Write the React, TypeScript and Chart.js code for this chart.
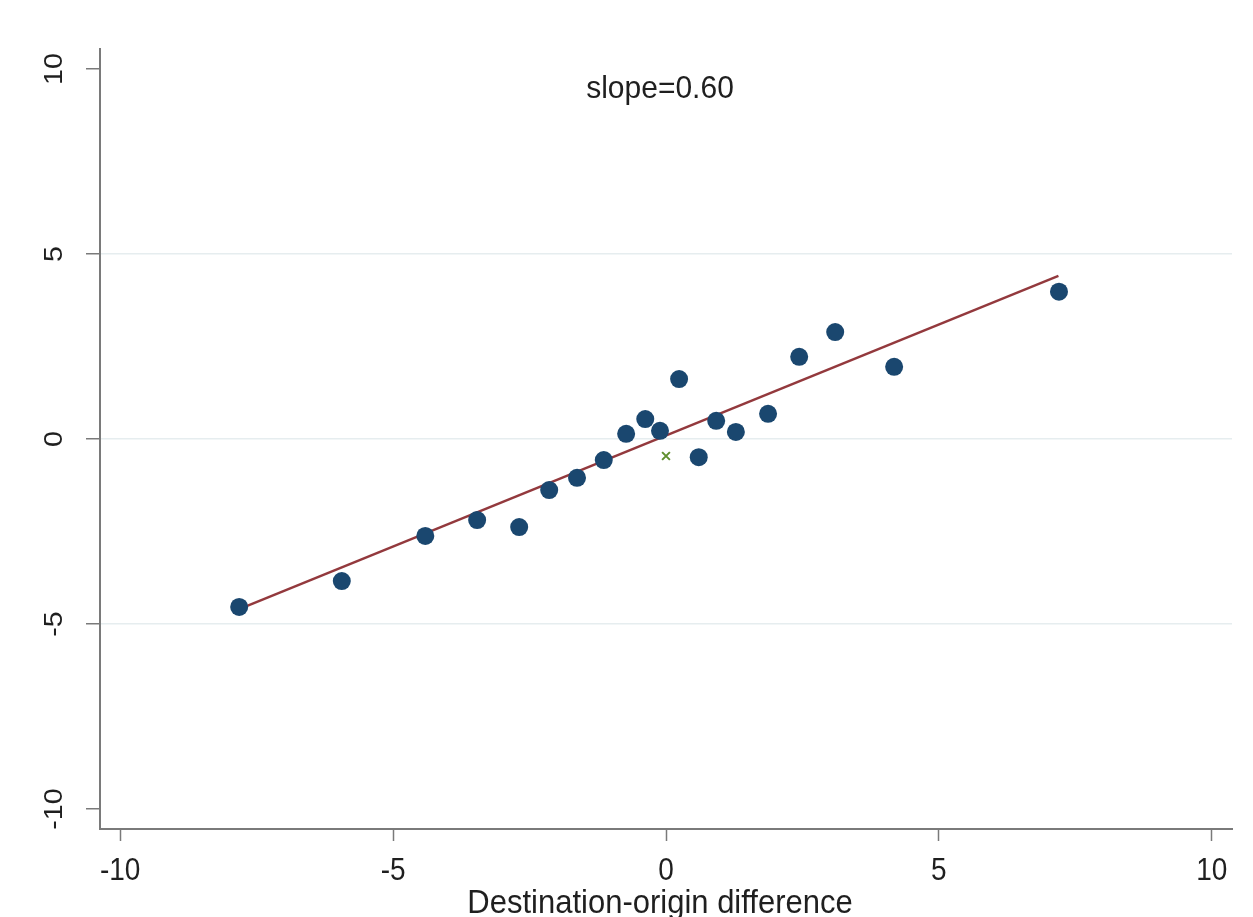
import { useEffect, useRef } from "react";
import { Chart, registerables } from "chart.js";

Chart.register(...registerables);

// Binned scatter points
const dotX = [-7.82, -5.94, -4.41, -3.46, -2.69, -2.14, -1.63, -1.14, -0.73, -0.38, -0.11, 0.24, 0.6, 0.92, 1.28, 1.87, 2.44, 3.1, 4.18, 7.2];
const dotY = [-4.54, -3.84, -2.62, -2.19, -2.38, -1.38, -1.05, -0.57, 0.14, 0.54, 0.22, 1.62, -0.49, 0.49, 0.19, 0.68, 2.22, 2.89, 1.95, 3.98];

// Fitted line endpoints
const fitX = [-7.82, 7.19];
const fitY = [-4.6, 4.41];

// Mean marker
const meanX = [0];
const meanY = [-0.46];

const xTicks = [-10, -5, 0, 5, 10];
const yTicks = [-10, -5, 0, 5, 10];
const yGridValues = [-5, 0, 5];
const xRange = [-10.37, 10.37];
const yRange = [-10.54, 10.54];

const slopeLabel = "slope=0.60";
const xTitle = "Destination-origin difference";

const FONT = "'Liberation Sans', Arial, Helvetica, sans-serif";
const TEXT = "#1f1f1f";
const AXIS = "#7a7a7a";

function stretchedText(ctx: CanvasRenderingContext2D, text: string, x: number, y: number, sy: number) {
  ctx.save();
  ctx.translate(x, y);
  ctx.scale(1, sy);
  ctx.fillText(text, 0, 0);
  ctx.restore();
}

const textPlugin = {
  id: "stataText",
  afterDraw(chart: any) {
    const { ctx, chartArea, scales } = chart;
    const xs = scales.x;
    const ys = scales.y;
    ctx.save();
    ctx.fillStyle = TEXT;

    // y tick labels (rotated)
    ctx.font = `26px ${FONT}`;
    ctx.textAlign = "center";
    ctx.textBaseline = "alphabetic";
    yTicks.forEach((v) => {
      const py = ys.getPixelForValue(v);
      ctx.save();
      ctx.translate(chartArea.left - 38, py);
      ctx.scale(1, 1.1);
      ctx.rotate(-Math.PI / 2);
      ctx.fillText(String(v), 0, 0);
      ctx.restore();
    });

    // x tick labels
    ctx.font = `28px ${FONT}`;
    xTicks.forEach((v) => {
      const px = xs.getPixelForValue(v);
      stretchedText(ctx, String(v), px, chartArea.bottom + 51, 1.15);
    });

    // x title
    ctx.font = `31px ${FONT}`;
    stretchedText(ctx, xTitle, (chartArea.left + chartArea.right) / 2 - 6, chartArea.bottom + 84, 1.05);

    // slope annotation
    ctx.font = `30px ${FONT}`;
    stretchedText(ctx, slopeLabel, (chartArea.left + chartArea.right) / 2 - 6, chartArea.top + 49, 1.05);

    ctx.restore();
  },
};

export default function App() {
  const ref = useRef<HTMLCanvasElement | null>(null);

  useEffect(() => {
    if (!ref.current) return;
    const chart = new Chart(ref.current, {
      type: "scatter",
      data: {
        datasets: [
          {
            type: "line",
            label: "fit",
            data: fitX.map((x, i) => ({ x, y: fitY[i] })),
            borderColor: "#93393d",
            borderWidth: 2.5,
            pointRadius: 0,
            fill: false,
            order: 2,
          } as any,
          {
            label: "bins",
            data: dotX.map((x, i) => ({ x, y: dotY[i] })),
            backgroundColor: "#1a476f",
            borderColor: "#1a476f",
            borderWidth: 0,
            pointRadius: 9,
            order: 1,
          },
          {
            label: "mean",
            data: meanX.map((x, i) => ({ x, y: meanY[i] })),
            pointStyle: "crossRot",
            pointRadius: 5.5,
            borderColor: "#5f8f2e",
            borderWidth: 2,
            order: 0,
          },
        ],
      },
      options: {
        responsive: false,
        animation: false,
        layout: { padding: { left: 0, right: 21, top: 49, bottom: 0 } },
        plugins: {
          legend: { display: false },
          tooltip: { enabled: false },
          title: { display: false },
        },
        scales: {
          x: {
            type: "linear",
            min: xRange[0],
            max: xRange[1],
            afterBuildTicks: (s: any) => {
              s.ticks = xTicks.map((v) => ({ value: v }));
            },
            afterFit: (s: any) => {
              s.height = 88;
            },
            ticks: { display: false },
            grid: {
              drawOnChartArea: false,
              drawTicks: true,
              tickLength: 12,
              tickColor: AXIS,
              tickWidth: 1.5,
            },
            border: { display: true, color: AXIS, width: 2 },
          },
          y: {
            type: "linear",
            min: yRange[0],
            max: yRange[1],
            afterBuildTicks: (s: any) => {
              s.ticks = yTicks.map((v) => ({ value: v }));
            },
            afterFit: (s: any) => {
              s.width = 100;
            },
            ticks: { display: false },
            grid: {
              drawOnChartArea: true,
              drawTicks: true,
              tickLength: 14,
              tickColor: AXIS,
              tickWidth: 1.5,
              lineWidth: 1.5,
              color: (c: any) =>
                yGridValues.includes(c.tick?.value) ? "#e6edef" : "rgba(0,0,0,0)",
            },
            border: { display: true, color: AXIS, width: 2 },
          },
        },
      },
      plugins: [textPlugin],
    });
    return () => chart.destroy();
  }, []);

  return (
    <div style={{ position: "absolute", left: 0, top: 0, width: 1253, height: 917, background: "#fff" }}>
      <canvas ref={ref} width={1253} height={917} style={{ display: "block" }} />
    </div>
  );
}
